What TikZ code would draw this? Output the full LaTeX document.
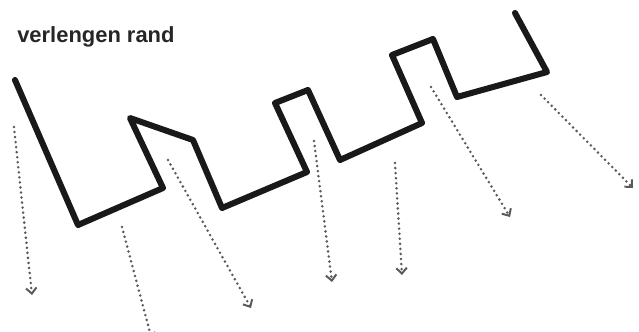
\documentclass[tikz,border=0pt]{standalone}
\usepackage{fontspec}
\setmainfont{Liberation Sans}
\usetikzlibrary{arrows.meta}

\begin{document}
\begin{tikzpicture}[x=0.025cm, y=-0.025cm, line cap=round, line join=round,
	rand/.style={line width=4.3pt, black!90},
	pijl/.style={dash pattern=on 0pt off 3.6pt, line width=2pt, black!65,
		-{Straight Barb[length=4pt, width=7.5pt, line width=1.4pt]}}]
	% Bounding box in picture pixels (y runs downwards)
	\useasboundingbox (0,0) rectangle (639,331);
	
	% Title
	\node[anchor=base west, inner sep=0pt, font=\bfseries\fontsize{15.6}{18}\selectfont, text=black!85] (titel) at (17,42) {verlengen rand};
	
	% The zig-zag edge
	\draw[rand] (15,80) -- (78,225) -- (163,188) -- (130,118) -- (193,140)
	-- (222,208) -- (307,172) -- (275,103) -- (308,90) -- (340,160)
	-- (422,123) -- (392,55) -- (433,39) -- (457,97) -- (547,72) -- (515,13);
	
	% Start and end points of the dotted arrows
	\coordinate (a1) at (14,127);  \coordinate (b1) at (32,295);
	\coordinate (a2) at (122,227); \coordinate (b2) at (152,340);
	\coordinate (a3) at (168,160); \coordinate (b3) at (251,308);
	\coordinate (a4) at (314,141); \coordinate (b4) at (332,282);
	\coordinate (a5) at (395,163); \coordinate (b5) at (402,275);
	\coordinate (a6) at (431,87);  \coordinate (b6) at (510,217);
	\coordinate (a7) at (541,95);  \coordinate (b7) at (633,188);
	
	% Dotted arrows
	\foreach \i in {1,...,7}
	\draw[pijl] (a\i) -- (b\i);
\end{tikzpicture}
\end{document}
